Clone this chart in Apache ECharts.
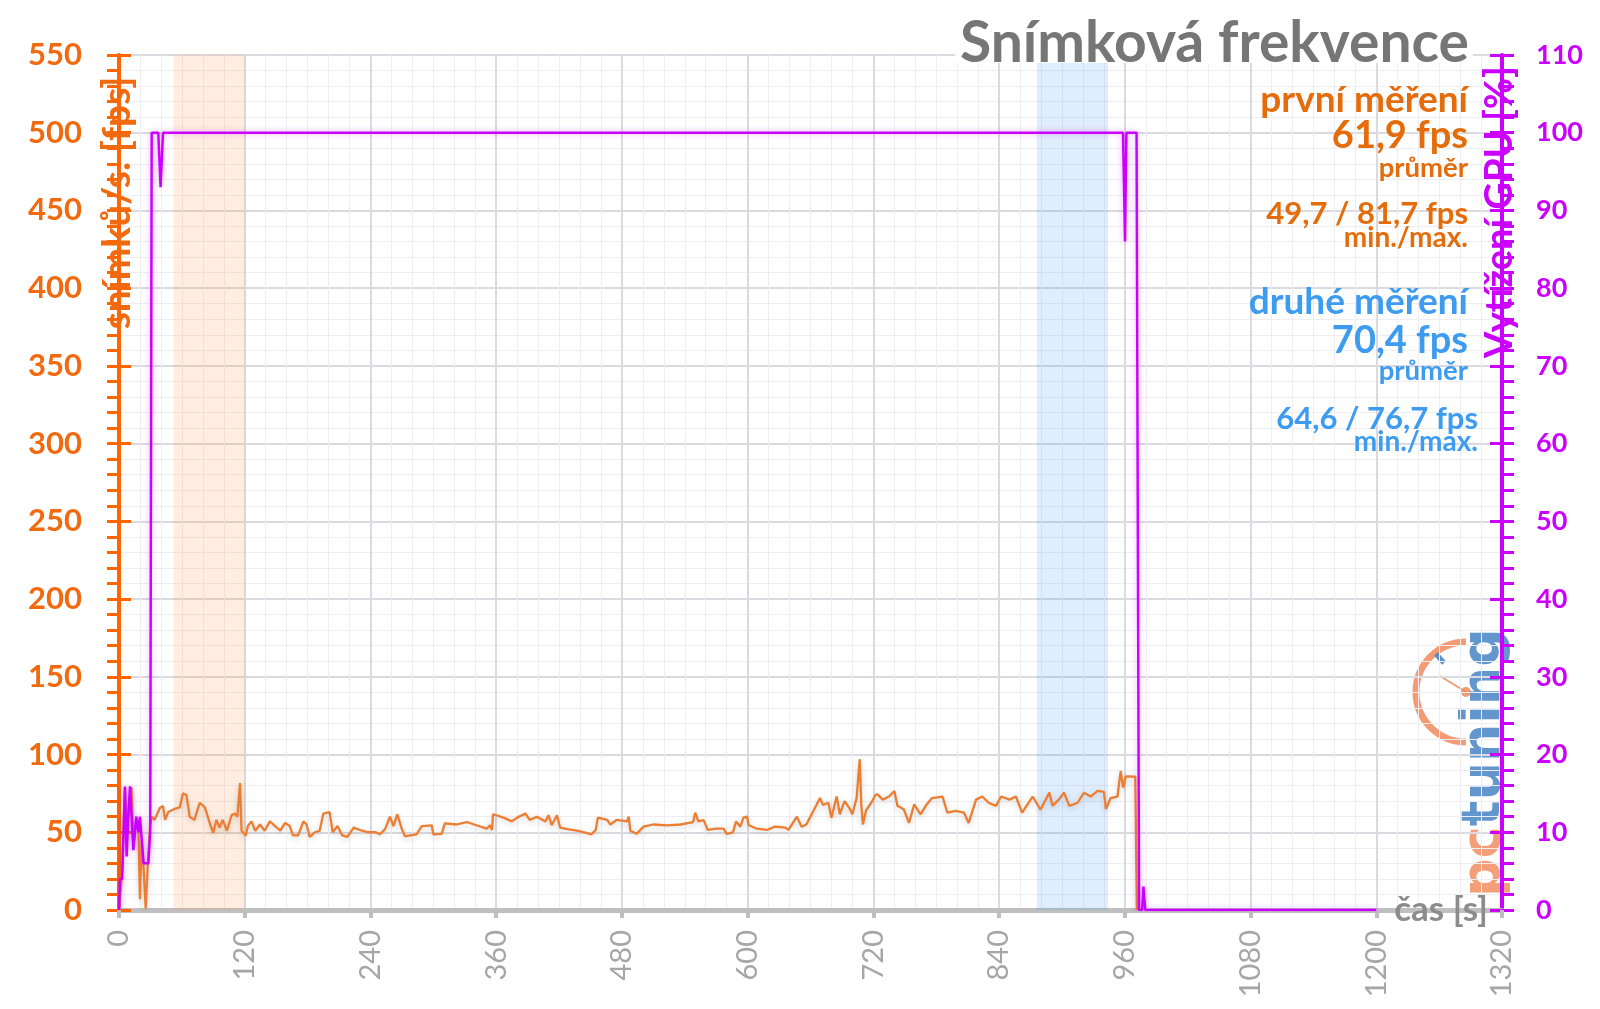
<!DOCTYPE html>
<html><head><meta charset="utf-8">
<script src="https://cdn.jsdelivr.net/npm/echarts@6/dist/echarts.min.js"></script>
<style>html,body{margin:0;padding:0;background:#fff}#c{width:1600px;height:1009px}</style>
</head><body><div id="c"></div>
<script>
// ---- data ----
const fpsTime = [0,2.5,5.7,7.3,9.9,12,13.7,16.2,18.5,20,21.6,23.2,25.5,27.4,29.6,31.2,34,39,42,44,47,53,58,61,64.3,67.5,72,77,82,87,90,93,96,99,103,107.5,110.7,113,115.5,117,121,123,126.5,130,134.6,139,144,149,154,158.5,163,166,171,176,179,182,187,191.5,195,201,204,208.6,213,218,224,232,238,245,
249,254,258.6,262,265.6,270,273,278,284,289,298.5,300,308,311,322,332,341,351,354,356,357,367,375,380,388,392,399,407,410,413,418,421,428,437,445,451,455,457,466,469,475,485,486.5,488,494,500.7,510,523,536,548,550,553,558,562,570,577,580,586,589,593,596,599.5,601,609,618.5,626,636,639,647,651.5,656,663,669,672,677,680,685,688,692.5,697,700,704,707,708.5,710,713,718,722,
724,729,735,740,743,749,754,759,765,770,776,786,790.6,798.5,806.5,811,818,824,830,837,842,850,856,862,872,879.6,888,891,897,902,907,915,921,927.5,934,940,942,946.5,953,956,958.5,961,970,971.5];
const fpsValue = [0,19,79,47,71,79,41,58,54,7,45,30,1,28,54,60,58,65.6,67,58,63,65,66,75,74,60,58,69,66,55,49.7,58,53,58,51,61,62,60,81.7,51,48,54,57,51,55,51,57,54,51,56,54,48,48,57,55,47,50,51,62,63,50,54,48,47,53,51,50,50,
48.7,52,60,54,61.6,52,47.4,48,48.7,54,54.5,48.7,49,55.7,55,56.6,54.5,52.3,54.5,51.5,61.6,59.4,57,59.4,62,58,60,57,61,54.5,61,53,52,51,49.8,48.7,51.5,59.4,58,55,58,57,60,51,49,53.6,55,54.5,55,56.6,62.6,57,57.8,51.5,52.3,52.3,49,50,57,53.6,59.4,60,54.5,52.3,51.5,53.6,53,51.5,60,53.6,55,64,72,67.6,69,59.4,73,61.6,70,65.7,61.6,72,97,67.6,55,64,69,74,
74.4,71,73,76.6,67,64.8,56,68,61.5,67,72,73,62.6,63.7,62.6,56,71,73,69,67,73,71,73,62.6,73,64.6,75.5,67,71,75.5,67,69,75.5,73,76.7,76,65,72,73,89.4,78.7,86,85.8,0];
const gpuTime = [0,1,3,5.7,7.3,8.8,10.5,13.7,16.5,18.5,20,21.6,23.5,28,29.8,31.2,37.5,39.7,42,958.3,960.2,961.5,971.2,973.6,976.5,977.8,979.5,1200];
const gpuValue = [0,4,4,15.9,6.9,12,15.9,7.7,12,10,12,12,6,6,10,100,100,93,100,100,86,100,100,0,0,3,0,0];
const bandFirst = [52,120];
const bandSecond = [876,944];
const firstRun = ['první měření','61,9 fps','průměr','49,7 / 81,7 fps','min./max.'];
const secondRun = ['druhé měření','70,4 fps','průměr','64,6 / 76,7 fps','min./max.'];

const fpsData = fpsTime.map((t,i)=>[t,fpsValue[i]]);
const gpuData = gpuTime.map((t,i)=>[t,gpuValue[i]]);

const OR = '#F26A10', OR_T = '#E46C0A', BL = '#3D9BF0', MG = '#CC00FF';
const chart = echarts.init(document.getElementById('c'), null, {renderer:'canvas'});

function runTexts(lines, color, ys, sizes, rights){
  return lines.map((s,i)=>({type:'text', x:rights[i], y:ys[i], z:50,
    style:{text:s, fill:color, font:'bold '+sizes[i]+'px Lato', align:'right', verticalAlign:'middle'}}));
}

const option = {
  animation:false,
  backgroundColor:'#fff',
  textStyle:{fontFamily:'Lato'},
  grid:{left:119,right:98,top:55,bottom:99,containLabel:false,outerBoundsMode:'none'},
  xAxis:{type:'value',min:0,max:1320,interval:120,
    axisLine:{show:true,lineStyle:{color:'#BFBFBF',width:5}},
    axisTick:{show:true,length:8,lineStyle:{color:'#BFBFBF',width:4}},
    axisLabel:{rotate:90,margin:20,color:'#A6A6A6',fontSize:29,fontFamily:'Lato',formatter:v=>String(v)},
    splitLine:{show:true,lineStyle:{color:'#DADAE0',width:2}},
    minorTick:{show:false,splitNumber:6},
    minorSplitLine:{show:true,lineStyle:{color:'#EEEEF2',width:1}}},
  yAxis:[
    {type:'value',min:0,max:550,interval:50,position:'left',
      axisLine:{show:true,lineStyle:{color:'#FF6600',width:4}},
      axisTick:{show:true,length:12,lineStyle:{color:'#FF6600',width:3}},
      minorTick:{show:true,splitNumber:5,length:12,lineStyle:{color:'#FF6600',width:3}},
      axisLabel:{color:OR,fontSize:31,fontWeight:'bold',margin:37,fontFamily:'Lato'},
      splitLine:{show:true,lineStyle:{color:'#DADAE0',width:2}},
      minorSplitLine:{show:true,lineStyle:{color:'#EEEEF2',width:1}}},
    {type:'value',min:0,max:110,interval:10,position:'right',
      axisLine:{show:true,lineStyle:{color:MG,width:4}},
      axisTick:{show:true,length:12,lineStyle:{color:MG,width:3}},
      minorTick:{show:true,splitNumber:5,length:12,lineStyle:{color:MG,width:3}},
      axisLabel:{color:MG,fontSize:27,fontWeight:'bold',margin:34,fontFamily:'Lato'},
      splitLine:{show:false}},
    {type:'value',min:0,max:550,interval:50,position:'left',
      axisLine:{show:false},axisLabel:{show:false},splitLine:{show:false},
      axisTick:{show:true,inside:true,length:12,lineStyle:{color:'#FF6600',width:3}}},
    {type:'value',min:0,max:110,interval:10,position:'right',
      axisLine:{show:false},axisLabel:{show:false},splitLine:{show:false},
      axisTick:{show:true,inside:true,length:12,lineStyle:{color:MG,width:3}}}
  ],
  series:[
    {type:'line',data:[],z:1,silent:true,
      markArea:{silent:true,data:[
        [{xAxis:bandFirst[0],itemStyle:{color:'rgba(247,150,70,0.17)'}},{xAxis:bandFirst[1]}],
        [{xAxis:bandSecond[0],itemStyle:{color:'rgba(70,150,240,0.17)'}},{xAxis:bandSecond[1]}]
      ]}},
    {name:'fps',type:'line',yAxisIndex:0,data:fpsData,showSymbol:false,z:3,
      lineStyle:{color:'#ED7D31',width:2.3,shadowBlur:6,shadowColor:'rgba(0,0,0,0.18)',shadowOffsetY:2}},
    {name:'gpu',type:'line',yAxisIndex:1,data:gpuData,showSymbol:false,z:4,
      lineStyle:{color:MG,width:2.5,shadowBlur:6,shadowColor:'rgba(204,0,255,0.35)'}}
  ],
  graphic:[
    {type:'rect',shape:{x:955,y:14,width:518,height:49},style:{fill:'#fff'},z:40},
    {type:'text',x:1469,y:44,z:50,style:{text:'Snímková frekvence',fill:'#767676',font:'bold 57px Lato',align:'right',verticalAlign:'middle'}},
    ...runTexts(firstRun,OR_T,[100,136,168,214,238],[37,38,27.5,31,28],[1468,1468,1468,1468,1468]),
    ...runTexts(secondRun,BL,[302,341,371,419,442],[37,38,27.5,31,28],[1468,1468,1468,1478,1478]),
    {type:'text',x:117,y:203,rotation:Math.PI/2,z:50,style:{text:'snímků/s. [fps]',fill:OR,font:'bold 39px Lato',align:'center',verticalAlign:'middle'}},
    {type:'text',x:1500,y:212,rotation:Math.PI/2,z:50,style:{text:'Vytížení GPU [%]',fill:MG,font:'bold 38px Lato',align:'center',verticalAlign:'middle'}},
    {type:'text',x:1488,y:910,z:50,style:{text:'čas [s]',fill:'#8C8C8C',font:'bold 35px Lato',align:'right',verticalAlign:'middle'}},
    // logo
    {type:'group',z:45,children:[
      {type:'arc',shape:{cx:1466,cy:692,r:50,startAngle:Math.PI/2,endAngle:Math.PI*3/2,clockwise:true},style:{stroke:'#F08A5D',lineWidth:7,fill:null,opacity:0.85}},
      {type:'line',shape:{x1:1436,y1:654,x2:1444,y2:663},style:{stroke:'#3F7FC1',lineWidth:5,opacity:0.85}},
      {type:'line',shape:{x1:1440,y1:676,x2:1466,y2:692},style:{stroke:'#F08A5D',lineWidth:2,opacity:0.85}},
      {type:'circle',shape:{cx:1466,cy:692,r:5},style:{fill:'#F08A5D',opacity:0.85}},
      {type:'text',x:1485,y:897,rotation:Math.PI/2,style:{text:'{a|pc}{b|tuning}',align:'left',verticalAlign:'middle',opacity:0.82,
        rich:{a:{fill:'#F08A5D',font:'bold 54px "DejaVu Sans"'},b:{fill:'#3F7FC1',font:'bold 54px "DejaVu Sans"'}}}}
    ]}
  ]
};
chart.setOption(option);
</script></body></html>
